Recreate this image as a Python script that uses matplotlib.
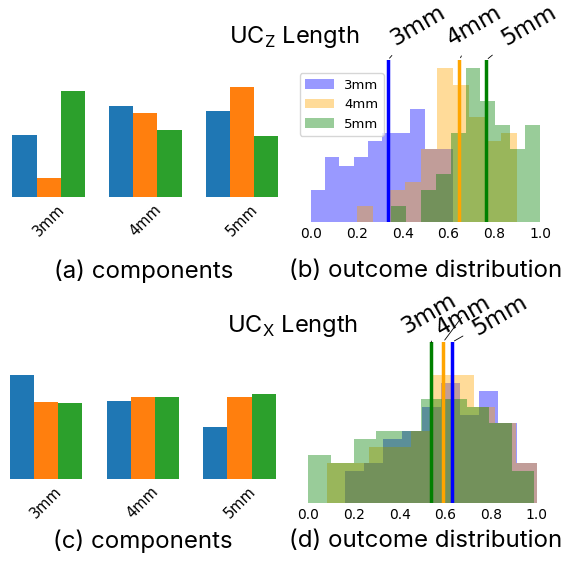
import numpy as np
import matplotlib
matplotlib.use("Agg")
import matplotlib.pyplot as plt

plt.rcParams['mathtext.fontset'] = 'custom'
plt.rcParams['mathtext.rm'] = 'Inter'

# component weights per unit-cell length
lengths = ['3mm', '4mm', '5mm']
bar_colors = ['#1f77b4', '#ff7f0e', '#2ca02c']
comp_z = [[0.62, 0.91, 0.86],   # component 1
          [0.19, 0.84, 1.10],   # component 2
          [1.06, 0.67, 0.61]]   # component 3
comp_x = [[1.04, 0.78, 0.52],
          [0.77, 0.82, 0.82],
          [0.76, 0.82, 0.85]]

# outcome histograms (bin edges + counts) per length
hist_colors = ['blue', 'orange', 'green']
z_edges = [np.linspace(0.0, 0.62, 11), np.linspace(0.20, 0.90, 11), np.linspace(0.35, 1.0, 11)]
z_counts = [[4, 8, 7, 8, 10, 11, 11, 14, 9, 9],
            [2, 0, 4, 5, 9, 19, 17, 13, 10, 11],
            [2, 0, 4, 6, 11, 19, 15, 12, 9, 12]]
z_means = [0.335, 0.648, 0.764]
z_label_pos = [(0.328, 21.2), (0.578, 21.2), (0.812, 21.2)]

x_edges = [np.linspace(0.16, 1.0, 11), np.linspace(0.08, 1.0, 11), np.linspace(0.0, 0.99, 11)]
x_counts = [[4, 5, 8, 9, 12, 15, 11, 14, 10, 5],
            [5, 5, 7, 7, 9, 16, 16, 12, 10, 5],
            [6, 5, 8, 9, 9, 13, 13, 12, 10, 4]]
x_line_colors = ['green', 'orange', 'blue']
x_means = [0.539, 0.590, 0.629]
x_label_pos = [(0.390, 20.5), (0.541, 20.3), (0.70, 20.3)]

W, H = 567, 563
fig = plt.figure(figsize=(W / 100, H / 100), dpi=100)


def px_axes(left, top, width, height):
    return fig.add_axes([left / W, 1 - (top + height) / H, width / W, height / H])


def bar_panel(ax, comps, xlim):
    x = np.arange(len(lengths))
    for i, vals in enumerate(comps):
        ax.bar(x + (i - 1) * 0.25, vals, width=0.25, color=bar_colors[i])
    ax.set_xlim(*xlim)
    ax.set_ylim(0, 1.2)
    ax.set_xticks(x)
    ax.set_xticklabels(lengths, rotation=45, fontsize=10.5)
    ax.tick_params(axis='x', length=0)
    ax.set_yticks([])
    for s in ax.spines.values():
        s.set_visible(False)


def hist_panel(ax, edges, counts, line_colors, means, label_pos, legend=False):
    for i in range(3):
        ax.stairs(counts[i], edges[i], fill=True, color=hist_colors[i], alpha=0.4,
                  linewidth=0, label=lengths[i])
    for i in range(3):
        ax.axvline(means[i], color=line_colors[i], lw=2.5)
        ax.annotate(lengths[i], xy=(means[i], 20), xytext=label_pos[i],
                    textcoords='data', ha='left', va='bottom', rotation=30,
                    fontsize=16.5, annotation_clip=False,
                    arrowprops=dict(arrowstyle='-', color='black', lw=0.6))
    ax.set_xlim(-0.05, 1.05)
    ax.set_ylim(0, 20)
    ax.set_xticks([0.0, 0.2, 0.4, 0.6, 0.8, 1.0])
    ax.set_xticklabels(['0.0', '0.2', '0.4', '0.6', '0.8', '1.0'], fontsize=10)
    ax.tick_params(axis='x', length=0)
    ax.set_yticks([])
    for s in ax.spines.values():
        s.set_visible(False)
    if legend:
        ax.legend(loc='upper left', bbox_to_anchor=(0.0, 0.92), borderaxespad=0,
                  fontsize=9.5, handlelength=2.2)


ax_a = px_axes(0.4, 77.3, 290, 120)
bar_panel(ax_a, comp_z, (-0.5, 2.5))
ax_c = px_axes(0.8, 359, 287, 120)
bar_panel(ax_c, comp_x, (-0.47, 2.5))

ax_b = px_axes(299.5, 60.3, 252, 162)
hist_panel(ax_b, z_edges, z_counts, hist_colors, z_means, z_label_pos, legend=True)
ax_d = px_axes(297, 342.3, 251, 161)
hist_panel(ax_d, x_edges, x_counts, x_line_colors, x_means, x_label_pos)

cap = dict(family='Inter', fontsize=17.3, ha='center', va='center')
fig.text(144 / W, 1 - 271 / H, '(a) components', **cap)
fig.text(426 / W, 1 - 271 / H, '(b) outcome distribution', **cap)
fig.text(143 / W, 1 - 541 / H, '(c) components', **cap)
fig.text(426 / W, 1 - 541 / H, '(d) outcome distribution', **cap)

ttl = dict(family='Inter', fontsize=17, ha='center', va='baseline')
fig.text(294 / W, 1 - 43 / H, r'UC$_\mathrm{Z}$ Length', **ttl)
fig.text(293 / W, 1 - 332 / H, r'UC$_\mathrm{X}$ Length', **ttl)

fig.savefig('out.png', dpi=100)
